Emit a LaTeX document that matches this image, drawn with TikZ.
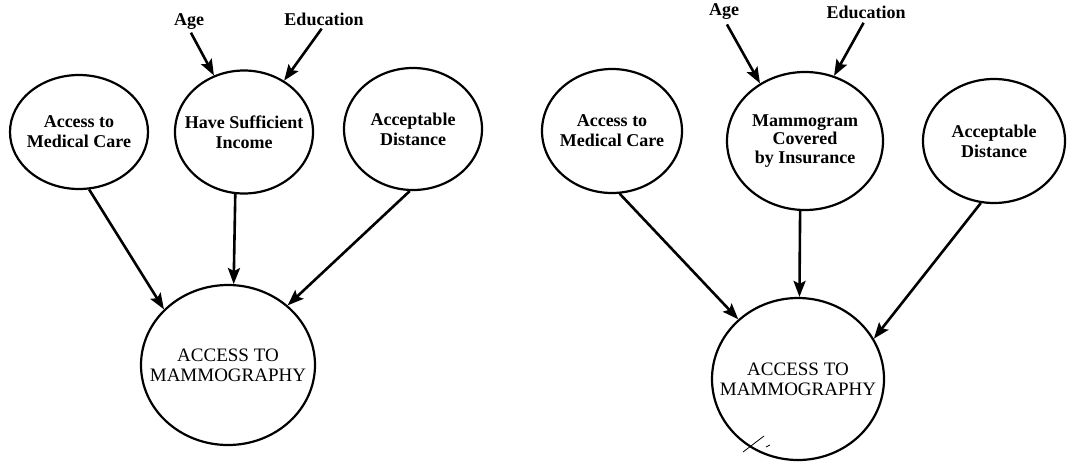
\documentclass[tikz,border=0pt]{standalone}
\usepackage{fontspec}
\setmainfont{Liberation Serif}
\usetikzlibrary{shapes.geometric,arrows.meta}
\begin{document}
\begin{tikzpicture}[x=1pt,y=-1pt,
 bubble/.style={draw, ellipse, line width=2.2pt, inner sep=-25pt, align=center, font=\bfseries\fontsize{18}{20}\selectfont},
 bigbubble/.style={bubble, font=\fontsize{19}{20}\selectfont},
 lbl/.style={anchor=base, inner sep=0pt, font=\bfseries\fontsize{18}{20}\selectfont},
 arr/.style={-{Stealth[length=16pt,width=12pt,inset=3pt]}, line width=2.6pt},
]
\useasboundingbox (0,0) rectangle (1067,461);
\fill[white] (0,0) rectangle (1067,461);

% left diagram
\node[bubble, minimum width=138pt, minimum height=114pt] (med) at (79,132) {Access to\\Medical Care};
\node[bubble, minimum width=138pt, minimum height=123pt] (inc) at (244,132) {Have Sufficient\\Income};
\node[bubble, minimum width=138pt, minimum height=122pt] (dist) at (413,129) {Acceptable\\Distance};
\node[bigbubble, minimum width=174pt, minimum height=160pt] (acc) at (228,365) {ACCESS TO\\MAMMOGRAPHY};
\node[lbl] (age) at (189,25) {Age};
\node[lbl] (edu) at (324,25) {Education};

\draw[arr] (med.280) -- (acc.139);
\draw[arr] (inc.262) -- (acc.86);
\draw[arr] (dist.267) -- (acc.45);
\draw[arr, shorten <=4pt] (age.south) -- (inc.118);
\draw[arr, shorten <=4pt] (edu.south) -- (inc.52);

% right diagram
\node[bubble, minimum width=140pt, minimum height=124pt] (med2) at (612,131) {Access to\\Medical Care};
\node[bubble, minimum width=156pt, minimum height=138pt, font=\bfseries\fontsize{18}{18.5}\selectfont] (mam) at (805,141) {Mammogram\\Covered\\by Insurance};
\node[bubble, minimum width=142pt, minimum height=124pt] (dist2) at (994,141) {Acceptable\\Distance};
\node[bigbubble, minimum width=172pt, minimum height=162pt] (acc2) at (798,379) {ACCESS TO\\MAMMOGRAPHY};
\node[lbl] (age2) at (724,15) {Age};
\node[lbl] (edu2) at (866,18) {Education};

\draw[arr] (med2.277) -- (acc2.135);
\draw[arr] (mam.266) -- (acc2.89);
\draw[arr] (dist2.258) -- (acc2.28);
\draw[arr, shorten <=6pt] (age2.south) -- (mam.128);
\draw[arr, shorten <=5pt] (edu2.south) -- (mam.66);

% scan mark
\draw[line width=0.8pt] (743,452) -- (764,436);
\draw[line width=0.8pt] (766,447) -- (770,445);
\end{tikzpicture}
\end{document}
